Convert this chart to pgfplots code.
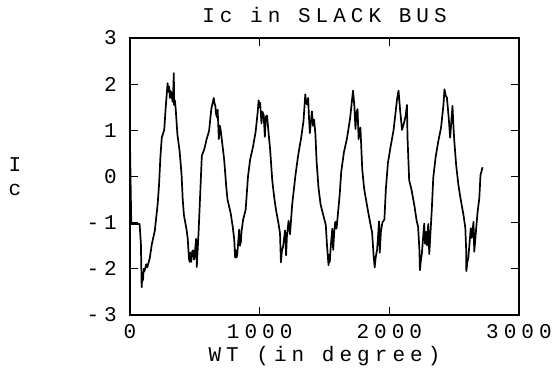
\documentclass[border=0pt]{standalone}
\usepackage{pgfplots}
\pgfplotsset{compat=1.18}
\usepackage{fontspec}
\setmainfont{Liberation Mono}[LetterSpace=24]
\newcommand{\pf}{\fontsize{21}{24}\selectfont}
\begin{document}
\begin{tikzpicture}
\useasboundingbox (0pt,0pt) rectangle (555pt,-379pt);
\begin{axis}[
  at={(130pt,-315pt)}, anchor=south west,
  scale only axis, width=389pt, height=277pt,
  xmin=0, xmax=3000, ymin=-3, ymax=3,
  xtick={0,1000,2000,3000}, xticklabels={0,1000,2000,3000},
  ytick={-3,-2,-1,0,1,2,3}, yticklabels={-3,-2,-1,0,1,2,3},
  tick align=inside, major tick length=8pt,
  axis line style={line width=1.3pt},
  every tick/.style={black, line width=1.3pt},
  xticklabel style={font=\pf, anchor=base, yshift=-24pt, inner sep=0pt},
  yticklabel style={font=\pf, anchor=east, inner sep=0pt, xshift=-13pt},
  title={Ic in SLACK BUS},
  title style={font=\pf, at={(axis description cs:0.5,1)}, anchor=base, yshift=10pt, inner sep=0pt},
  xlabel={WT (in degree)},
  xlabel style={font=\pf, at={(axis description cs:0.5,0)}, anchor=base, yshift=-47pt, inner sep=0pt},
  ylabel={I\\c},
  ylabel style={font=\pf, at={(axis description cs:0,0.5)}, anchor=center, rotate=-90, xshift=-115pt, align=center, inner sep=0pt},
]
\addplot[black, line width=1.7pt, line join=round, mark=none] coordinates {
(0,0.75) (6,-0.38) (10,-1.03) (74,-1.03) (84,-1.45) (90,-2.40) (96,-2.10) (100,-2.25)
(106,-2.00) (112,-2.05) (125,-1.90) (133,-1.97) (153,-1.76) (168,-1.47) (191,-1.18)
(213,-0.61) (224,-0.18) (234,0.40) (245,0.84) (264,1.01) (275,1.48) (290,2.02)
(296,1.84) (302,1.95) (308,1.70) (314,1.85) (321,1.77) (328,1.62) (334,1.90) (338,2.24)
(340,1.55) (346,1.65) (352,1.48) (366,0.90) (383,0.54) (398,0.03) (406,-0.47)
(416,-0.84) (435,-1.13) (445,-1.34) (455,-1.78) (460,-1.85) (466,-1.65) (472,-1.85)
(480,-1.62) (488,-1.60) (494,-1.80) (499,-1.71) (505,-1.50) (510,-1.35) (515,-1.96)
(529,-1.20) (554,0.45) (574,0.60) (591,0.81) (610,0.99) (627,1.46) (641,1.64)
(646,1.70) (652,1.58) (658,1.53) (664,1.35) (671,1.28) (676,1.45) (685,0.81)
(693,1.10) (700,0.99) (711,0.73) (726,0.37) (742,-0.21) (752,-0.50) (776,-0.79)
(792,-1.08) (804,-1.37) (811,-1.76) (818,-1.60) (823,-1.75) (828,-1.66) (842,-1.15)
(848,-1.50) (856,-1.40) (860,-1.20) (872,-0.94) (892,-0.72) (910,0.00) (926,0.36)
(949,0.65) (969,0.97) (985,1.40) (992,1.65) (998,1.50) (1003,1.60) (1006,1.51)
(1014,1.15) (1022,1.40) (1031,1.33) (1040,0.86) (1048,1.30) (1057,1.32) (1067,1.00)
(1081,0.57) (1097,-0.08) (1112,-0.45) (1127,-0.74) (1146,-1.03) (1157,-1.24)
(1164,-1.86) (1172,-1.60) (1180,-1.53) (1196,-1.17) (1204,-1.71) (1210,-1.30)
(1223,-0.96) (1234,-1.25) (1251,-0.60) (1277,0.05) (1298,0.48) (1320,0.84)
(1338,1.20) (1352,1.78) (1359,1.60) (1366,1.56) (1374,1.70) (1380,1.30) (1387,0.94)
(1403,1.41) (1412,1.10) (1420,1.23) (1430,0.91) (1439,0.33) (1454,-0.25) (1470,-0.61)
(1490,-0.83) (1510,-1.05) (1519,-1.48) (1531,-1.92) (1537,-1.70) (1541,-1.85)
(1547,-1.56) (1560,-1.13) (1567,-1.59) (1575,-1.20) (1583,-0.98) (1593,-1.13)
(1617,-0.40) (1629,0.10) (1650,0.53) (1673,0.82) (1697,1.25) (1720,1.86) (1725,1.70)
(1730,1.54) (1739,1.03) (1747,1.40) (1755,1.46) (1763,0.81) (1777,1.06) (1791,0.16)
(1806,-0.27) (1828,-0.63) (1852,-1.00) (1867,-1.21) (1879,-1.72) (1887,-1.97)
(1895,-1.75) (1906,-1.58) (1921,-0.97) (1926,-1.65) (1935,-1.20) (1946,-1.00)
(1962,-0.93) (1973,-0.28) (1989,0.29) (2010,0.65) (2033,1.01) (2059,1.66) (2071,1.86)
(2077,1.65) (2083,1.44) (2098,1.01) (2112,1.15) (2125,1.30) (2136,1.55) (2140,0.86)
(2153,-0.08) (2172,-0.30) (2195,-0.66) (2210,-0.95) (2222,-1.09) (2232,-1.60)
(2236,-2.03) (2244,-1.80) (2251,-1.67) (2269,-1.02) (2276,-1.46) (2283,-1.20)
(2290,-1.49) (2300,-1.03) (2308,-1.68) (2327,-0.74) (2339,-0.02) (2357,0.42)
(2378,0.77) (2399,1.06) (2418,1.57) (2425,1.89) (2435,1.75) (2444,1.71) (2458,1.27)
(2469,0.84) (2487,1.53) (2495,1.06) (2501,0.77) (2515,0.26) (2532,-0.17) (2548,-0.46)
(2571,-0.82) (2586,-1.11) (2593,-1.62) (2594,-2.05) (2602,-1.85) (2609,-1.77)
(2628,-1.12) (2636,-1.33) (2649,-0.98) (2655,-1.63) (2672,-1.05) (2681,-0.76)
(2694,-0.47) (2703,0.03) (2719,0.20)
};
\end{axis}
\end{tikzpicture}
\end{document}
